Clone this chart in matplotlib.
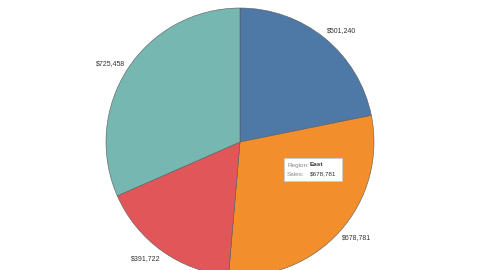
import matplotlib
matplotlib.use("Agg")
import matplotlib.pyplot as plt
from matplotlib.patches import Rectangle
import numpy as np

plt.rcParams['font.family'] = ['Liberation Sans', 'DejaVu Sans']

# sales by region
regions = ['Central', 'East', 'South', 'West']
sales = [501240, 678781, 391722, 725458]
colors = ['#4E79A7', '#F28E2B', '#E15759', '#76B7B2']

# tooltip content (hovered slice)
tip_region = 'East'
tip_sales = 678781

cx, cy, rad = 240, 128, 134

fig = plt.figure(figsize=(4.8, 2.7), dpi=100)
ax = fig.add_axes([0, 0, 1, 1])

labels = ['${:,}'.format(v) for v in sales]
wedges, texts = ax.pie(sales, colors=colors, labels=labels, startangle=90,
                       counterclock=False, center=(cx, cy), radius=rad,
                       labeldistance=1.04, frame=True,
                       wedgeprops=dict(edgecolor='#5a5a5a', linewidth=0.4),
                       textprops=dict(fontsize=5, color='#333333'))
# align labels away from the pie (center is not at origin)
for w, t in zip(wedges, texts):
    ang = np.deg2rad((w.theta1 + w.theta2) / 2)
    x = cx + 1.02 * rad * np.cos(ang)
    y = cy + 1.07 * rad * np.sin(ang)
    t.set_position((x, y))
    t.set_ha('left' if x > cx else 'right')
    t.set_va('center')

ax.set_xlim(0, 480)
ax.set_ylim(0, 270)
ax.set_aspect('equal')
ax.axis('off')

# tooltip box
ax.add_patch(Rectangle((284, 89), 58, 23, facecolor='white',
                       edgecolor='#cccccc', linewidth=0.6, zorder=5))
ax.text(287, 105, 'Region:', fontsize=4.6, color='#8a8a8a', va='center', zorder=6)
ax.text(310, 105, tip_region, fontsize=4.6, color='#333333', va='center',
        fontweight='bold', zorder=6)
ax.text(287, 96, 'Sales:', fontsize=4.6, color='#8a8a8a', va='center', zorder=6)
ax.text(310, 96, '${:,}'.format(tip_sales), fontsize=4.6, color='#333333',
        va='center', zorder=6)

plt.savefig('out.png', dpi=100)
